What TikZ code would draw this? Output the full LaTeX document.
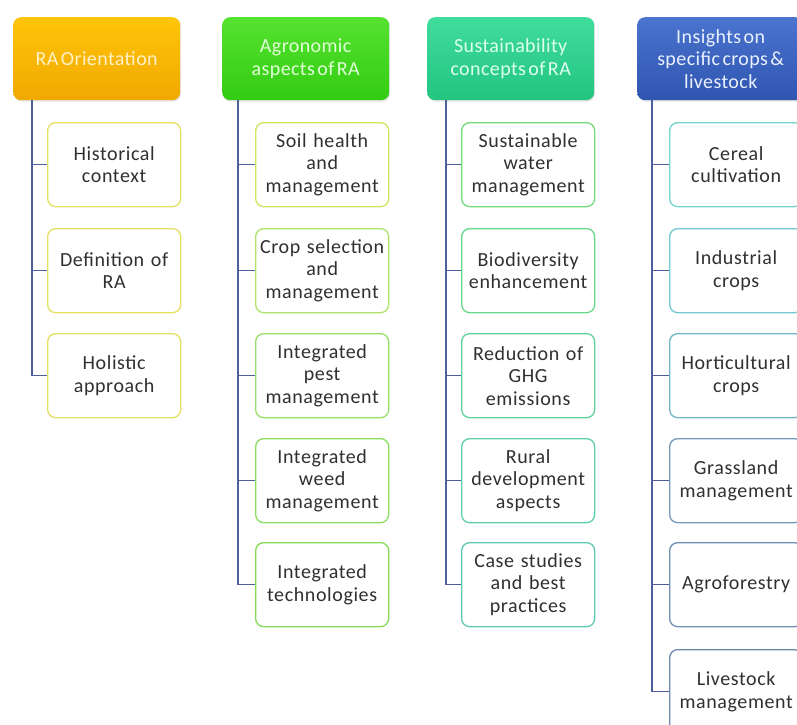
\documentclass[tikz,border=0pt]{standalone}
\usepackage{fontspec}
\setmainfont{Carlito}
\newfontfamily\childfont[LetterSpace=3]{Carlito}
\newfontfamily\headfont[LetterSpace=2,WordSpace=0.5]{Carlito}
\usetikzlibrary{calc,shadows}
\definecolor{hAtop}{HTML}{FFC50A}\definecolor{hAbot}{HTML}{F0A800}\definecolor{hAtxt}{HTML}{FFF0C8}
\definecolor{hBtop}{HTML}{55E230}\definecolor{hBbot}{HTML}{33CC12}\definecolor{hBtxt}{HTML}{DFFFD5}
\definecolor{hCtop}{HTML}{40DC9C}\definecolor{hCbot}{HTML}{22C480}\definecolor{hCtxt}{HTML}{DDFFF0}
\definecolor{hDtop}{HTML}{4A74CE}\definecolor{hDbot}{HTML}{2F55B0}\definecolor{hDtxt}{HTML}{EAF0FF}
\definecolor{txtgray}{HTML}{303030}
\definecolor{conncol}{HTML}{4D5F9E}
\definecolor{bA}{HTML}{E6E060}
\definecolor{bBa}{HTML}{CFE65C}\definecolor{bBb}{HTML}{AEE26A}\definecolor{bBc}{HTML}{98DF6A}\definecolor{bBd}{HTML}{8CDD60}\definecolor{bBe}{HTML}{84DB55}
\definecolor{bCa}{HTML}{74DB78}\definecolor{bCb}{HTML}{66D88A}\definecolor{bCc}{HTML}{5ED39A}\definecolor{bCd}{HTML}{5ECFA8}\definecolor{bCe}{HTML}{5ECBB0}
\definecolor{bDa}{HTML}{72D4CC}\definecolor{bDb}{HTML}{72C8D0}\definecolor{bDc}{HTML}{72B4CA}\definecolor{bDd}{HTML}{7298BC}\definecolor{bDe}{HTML}{708EB5}\definecolor{bDf}{HTML}{6E88B0}
\tikzset{
  head/.style={rounded corners=8pt, minimum width=167pt, minimum height=83pt, anchor=north west,
    align=center, font=\headfont\fontsize{20}{22.5}\selectfont, inner sep=2pt,
    drop shadow={opacity=0.2, shadow xshift=1pt, shadow yshift=-1.5pt}},
  child/.style={draw, line width=1.3pt, rounded corners=8pt, fill=white, minimum width=133pt,
    minimum height=84pt, anchor=north west, align=center, text=txtgray,
    font=\childfont\fontsize{20}{22.5}\selectfont, inner sep=0pt, text width=131pt},
  conn/.style={draw=conncol, line width=1.3pt}
}
\begin{document}
\begin{tikzpicture}[x=1pt,y=-1pt]
\useasboundingbox (0,0) rectangle (797,724);
\clip (0,0) rectangle (797,724);
% headers
\node[head, top color=hAtop, bottom color=hAbot, text=hAtxt] (h1) at (13,17) {RA Orientation};
\node[head, top color=hBtop, bottom color=hBbot, text=hBtxt] (h2) at (222,17) {Agronomic\\aspects of RA};
\node[head, top color=hCtop, bottom color=hCbot, text=hCtxt] (h3) at (427,17) {Sustainability\\concepts of RA};
\node[head, top color=hDtop, bottom color=hDbot, text=hDtxt] (h4) at (637,17) {Insights on\\specific crops \&\\livestock};
% trunk coordinates
\coordinate (t1) at ($(h1.south west)+(19,0)$);
\coordinate (t2) at ($(h2.south west)+(16,0)$);
\coordinate (t3) at ($(h3.south west)+(19,0)$);
\coordinate (t4) at ($(h4.south west)+(15,0)$);
% column 1
\node[child, draw=bA] (a1) at (47,122) {Historical\\context};
\node[child, draw=bA] (a2) at (47,228) {Definition of\\RA};
\node[child, draw=bA] (a3) at (47,333) {Holistic\\approach};
% column 2
\node[child, draw=bBa] (b1) at (255,122) {Soil health\\and\\management};
\node[child, draw=bBb] (b2) at (255,228) {Crop selection\\and\\management};
\node[child, draw=bBc] (b3) at (255,333) {Integrated\\pest\\management};
\node[child, draw=bBd] (b4) at (255,438) {Integrated\\weed\\management};
\node[child, draw=bBe] (b5) at (255,542) {Integrated\\technologies};
% column 3
\node[child, draw=bCa] (c1) at (461,122) {Sustainable\\water\\management};
\node[child, draw=bCb] (c2) at (461,228) {Biodiversity\\enhancement};
\node[child, draw=bCc] (c3) at (461,333) {Reduction of\\GHG\\emissions};
\node[child, draw=bCd] (c4) at (461,438) {Rural\\development\\aspects};
\node[child, draw=bCe] (c5) at (461,542) {Case studies\\and best\\practices};
% column 4
\node[child, draw=bDa] (d1) at (669,122) {Cereal\\cultivation};
\node[child, draw=bDb] (d2) at (669,228) {Industrial\\crops};
\node[child, draw=bDc] (d3) at (669,333) {Horticultural\\crops};
\node[child, draw=bDd] (d4) at (669,438) {Grassland\\management};
\node[child, draw=bDe] (d5) at (669,542) {Agroforestry};
\node[child, draw=bDf] (d6) at (669,649) {Livestock\\management};
% connectors
\foreach \c in {a1,a2,a3} \draw[conn] (t1) |- (\c.west);
\foreach \c in {b1,b2,b3,b4,b5} \draw[conn] (t2) |- (\c.west);
\foreach \c in {c1,c2,c3,c4,c5} \draw[conn] (t3) |- (\c.west);
\foreach \c in {d1,d2,d3,d4,d5,d6} \draw[conn] (t4) |- (\c.west);
\end{tikzpicture}
\end{document}
